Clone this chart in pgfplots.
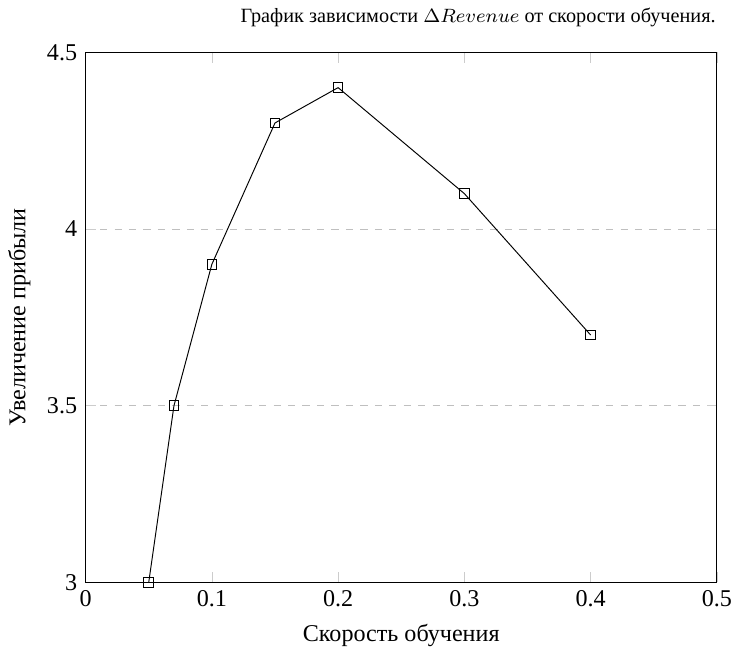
\documentclass[border=0pt]{standalone}
\usepackage{fontspec}
\setmainfont{Liberation Serif}
\usepackage{pgfplots}
\pgfplotsset{compat=1.18}
\begin{document}
\begin{tikzpicture}
\begin{axis}[
  scale only axis,
  width=262pt, height=220pt,
  xmin=0, xmax=0.5, ymin=3, ymax=4.5,
  xtick={0,0.1,0.2,0.3,0.4,0.5},
  ytick={3,3.5,4,4.5},
  xticklabels={0,0.1,0.2,0.3,0.4,0.5},
  yticklabels={3,3.5,4,4.5},
  tick style={gray!40},
  ymajorgrids,
  major grid style={dashed, gray!50},
  xlabel={Скорость обучения},
  ylabel={Увеличение прибыли},
  title={\fontsize{8.4}{10}\selectfont График зависимости $\Delta Revenue$ от скорости обучения.},
  title style={at={(1,1)}, anchor=south east, yshift=1pt, xshift=3pt},
  axis line style={black},
]
\addplot[black, mark=square, mark size=2pt, mark options={solid}] coordinates {
  (0.05,3.0) (0.07,3.5) (0.1,3.9) (0.15,4.3) (0.2,4.4) (0.3,4.1) (0.4,3.7)
};
\end{axis}
\end{tikzpicture}
\end{document}
